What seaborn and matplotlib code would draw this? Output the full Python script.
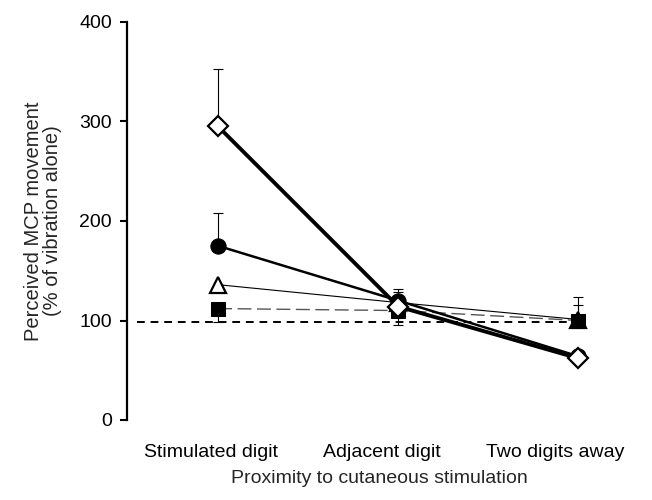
import numpy as np
import pandas as pd
import matplotlib
matplotlib.use("Agg")
import matplotlib.pyplot as plt
import seaborn as sns

# data
positions = ["Stimulated digit", "Adjacent digit", "Two digits away"]
diamond_vals = [295, 114, 62]
circle_vals = [175, 120, 64]
triangle_vals = [136, 118, 101]
square_vals = [112, 110, 100]

# one-sided error bars (up, down)
diamond_up = [58, 0, 0]
circle_up = [33, 12, 0]
triangle_up = [0, 11, 23]
square_up = [0, 0, 16]
square_down = [14, 15, 0]

baseline = 98
y_ticks = [0, 100, 200, 300, 400]

sns.set_theme(style="ticks")
plt.rcParams["font.family"] = ["Liberation Sans", "DejaVu Sans"]

fig = plt.figure(figsize=(6.52, 5.0), dpi=100)
ax = fig.add_axes([0.195, 0.16, 0.775, 0.796])

x = np.arange(len(positions))
df = pd.DataFrame({"pos": x, "diamond": diamond_vals, "circle": circle_vals,
                   "triangle": triangle_vals, "square": square_vals})

# reference dashed line at vibration alone
ax.hlines(baseline, -0.45, x[-1], colors="black", linestyles=(0, (4, 3)), linewidth=1.4, zorder=1)

# error bars first (thin, behind markers)
err_kw = dict(fmt="none", ecolor="black", elinewidth=0.8, capsize=3.5, capthick=0.8, zorder=2)
ax.errorbar(x, diamond_vals, yerr=[np.zeros(3), diamond_up], **err_kw)
ax.errorbar(x, circle_vals, yerr=[np.zeros(3), circle_up], **err_kw)
ax.errorbar(x, triangle_vals, yerr=[np.zeros(3), triangle_up], **err_kw)
ax.errorbar(x, square_vals, yerr=[square_down, square_up], **err_kw)

sns.lineplot(data=df, x="pos", y="triangle", ax=ax, color="black", linewidth=0.8,
             marker="^", markersize=11, markerfacecolor="white",
             markeredgecolor="black", markeredgewidth=1.6, zorder=3)
sns.lineplot(data=df, x="pos", y="square", ax=ax, color="#555555", linewidth=1.0,
             dashes=False, linestyle=(0, (10, 4)), marker="s", markersize=10,
             markerfacecolor="black", markeredgecolor="black", zorder=4)
sns.lineplot(data=df, x="pos", y="circle", ax=ax, color="black", linewidth=1.8,
             marker="o", markersize=11, markerfacecolor="black",
             markeredgecolor="black", zorder=5)
sns.lineplot(data=df, x="pos", y="diamond", ax=ax, color="black", linewidth=2.8,
             marker="D", markersize=10, markerfacecolor="white",
             markeredgecolor="black", markeredgewidth=1.6, zorder=6)

ax.set_xlim(-0.505, 2.3)
ax.set_ylim(0, 400)
ax.set_yticks(y_ticks)
ax.set_yticklabels([str(t) for t in y_ticks], fontsize=14)
label_shift = np.array([-0.04, -0.09, -0.13])
ax.set_xticks(x + label_shift)
ax.set_xticklabels(positions, fontsize=14)

for side in ["top", "right", "bottom"]:
    ax.spines[side].set_visible(False)
ax.spines["left"].set_linewidth(1.6)
ax.spines["left"].set_color("black")
ax.tick_params(axis="y", left=True, direction="out", length=5, width=1.5, colors="black", pad=6)
ax.tick_params(axis="x", bottom=False, length=0, pad=17, colors="black")

ax.set_xlabel("Proximity to cutaneous stimulation", fontsize=14, labelpad=7)
ax.set_ylabel("Perceived MCP movement\n(% of vibration alone)", fontsize=14.5, labelpad=12,
              linespacing=1.0)
ax.grid(False)

fig.savefig("out.png", dpi=100, facecolor="white")
